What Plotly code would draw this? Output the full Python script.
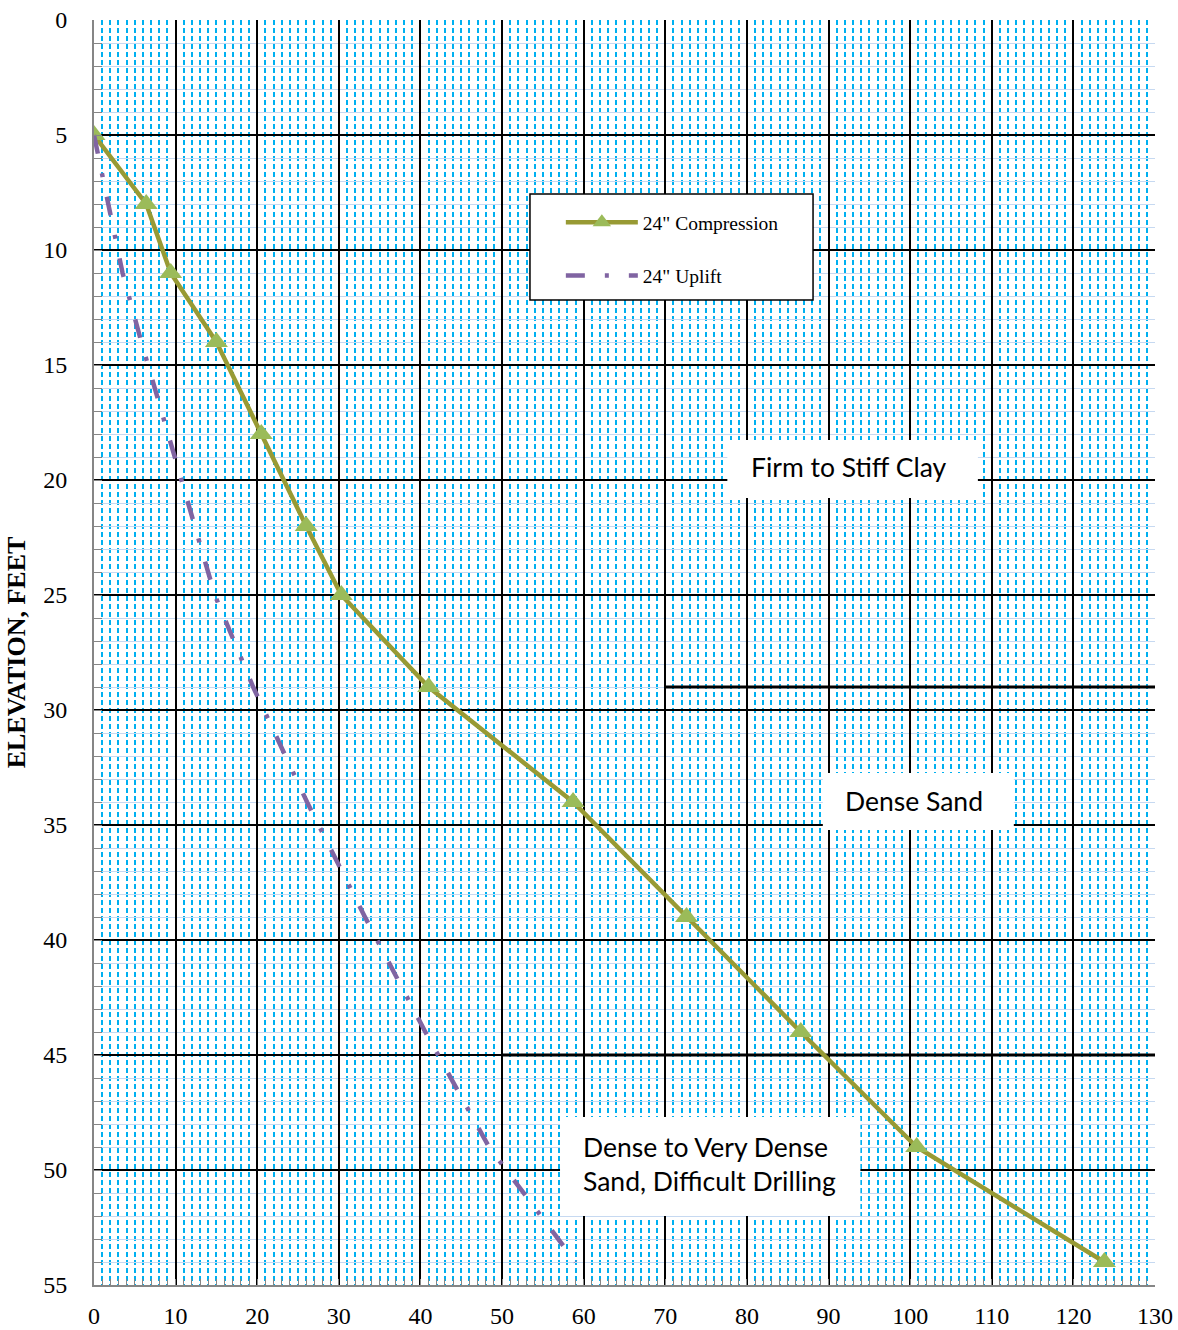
import plotly.graph_objects as go

# Depth below grade (ft) and axial capacity for the 24" drilled shaft
depth = [5, 8, 11, 14, 18, 22, 25, 29, 34, 39, 44, 49, 54]
compression = [0, 6.4, 9.4, 15.0, 20.5, 26.0, 30.3, 41.0, 58.7, 72.6, 86.6, 100.8, 123.8]
uplift = [0, 1.7, 3.5, 5.8, 9.1, 12.3, 14.8, 19.5, 26.1, 33.2, 40.6, 48.4, 59.0]

x_ticks = list(range(0, 131, 10))
y_ticks = list(range(0, 56, 5))

# Soil strata boundaries: (depth, starting x)
strata_depths = [29, 45]
strata_starts = [70, 50]

serif = "Liberation Serif"
sans = "Lato"

fig = go.Figure()

fig.add_trace(go.Scatter(
    x=compression, y=depth, mode="lines+markers", name='24" Compression',
    legendgroup="c",
    line=dict(color="#989A34", width=4.5),
    marker=dict(symbol="triangle-up", size=20, color="#9BBB59"),
))
fig.add_trace(go.Scatter(
    x=uplift, y=depth, mode="lines", name='24" Uplift',
    legendgroup="u",
    line=dict(color="#8064A2", width=4.5, dash="19px,20px,4px,20px"),
))

# strata boundary lines
for d, x0 in zip(strata_depths, strata_starts):
    fig.add_shape(type="line", x0=x0, x1=130, y0=d, y1=d, xref="x", yref="y",
                  line=dict(color="black", width=3), layer="between")

# white label boxes
boxes = [(77.6, 108.3, 18.26, 20.78), (89.3, 112.7, 32.74, 35.22), (57.1, 93.9, 47.7, 52.0)]
for x0, x1, y0, y1 in boxes:
    fig.add_shape(type="rect", x0=x0, x1=x1, y0=y0, y1=y1, xref="x", yref="y",
                  fillcolor="white", line=dict(width=0), layer="between")

# legend frame
fig.add_shape(type="rect", x0=0.4109, x1=0.6777, y0=0.7787, y1=0.8625,
              xref="paper", yref="paper", fillcolor="white",
              line=dict(color="black", width=1.5), layer="above")

labels = [
    ("Firm to Stiff Clay", 80.3, 19.45),
    ("Dense Sand", 91.8, 33.96),
    ("Dense to Very Dense<br>Sand, Difficult Drilling", 59.7, 49.75),
]
for text, x, y in labels:
    fig.add_annotation(text=text, x=x, y=y, xref="x", yref="y", showarrow=False,
                       xanchor="left", yanchor="middle", align="left",
                       font=dict(family=sans, size=26.5, color="black"))

fig.update_xaxes(
    range=[0, 130], tickvals=x_ticks, ticks="inside", ticklen=6, tickcolor="#868686",
    showline=True, linecolor="#868686", linewidth=2, zeroline=False, automargin=False,
    showgrid=True, gridcolor="black", gridwidth=1.5,
    tickfont=dict(family=serif, size=24, color="black"), ticklabelstandoff=8,
    minor=dict(dtick=1, ticks="inside", ticklen=6, tickcolor="#868686",
               showgrid=True, gridcolor="#00B0F0", gridwidth=2, griddash="5px,3px"),
)
fig.update_yaxes(
    range=[55, 0], tickvals=y_ticks, ticks="inside", ticklen=8, tickcolor="#868686",
    showline=True, linecolor="#868686", linewidth=2, zeroline=False, automargin=False,
    showgrid=True, gridcolor="black", gridwidth=1.5,
    tickfont=dict(family=serif, size=24, color="black"), ticklabelstandoff=20,
    title=dict(text="<b>ELEVATION, FEET</b>", font=dict(family=serif, size=26, color="black"),
               standoff=10),
    minor=dict(dtick=1, ticks="inside", ticklen=8, tickcolor="#868686",
               showgrid=True, gridcolor="#C6D9F1", gridwidth=1),
)

fig.update_layout(
    width=1178, height=1330,
    margin=dict(l=94, r=23, t=20, b=45, autoexpand=False),
    paper_bgcolor="white", plot_bgcolor="white",
    font=dict(family=serif, color="black"),
    showlegend=True,
    legend=dict(
        x=0.440, y=0.8553, xanchor="left", yanchor="top",
        bgcolor="rgba(0,0,0,0)", borderwidth=0,
        font=dict(family=serif, size=19.5, color="black"),
        itemwidth=72, traceorder="grouped", tracegroupgap=25,
    ),
)

fig.write_html("out.html")
